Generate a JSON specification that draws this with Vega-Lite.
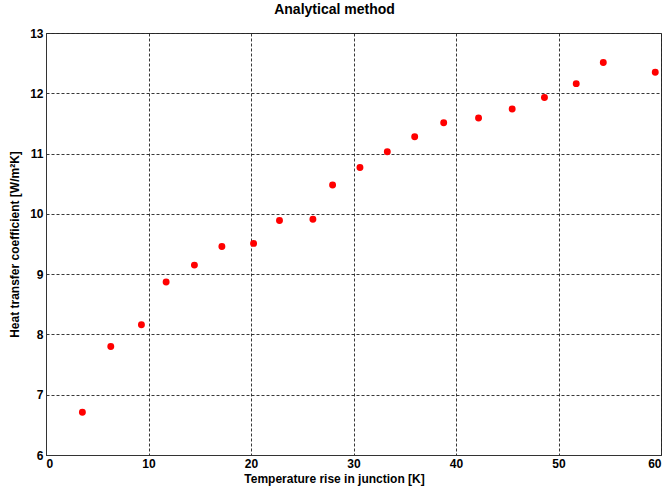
{
  "$schema": "https://vega.github.io/schema/vega-lite/v6.json",
  "autosize": {"type": "none"},
  "padding": {"left": 46, "top": 33, "right": 8, "bottom": 39},
  "width": 615,
  "height": 422,
  "background": "white",
  "title": {
    "text": "Analytical method",
    "font": "Liberation Sans",
    "fontSize": 14,
    "fontWeight": "bold",
    "color": "black",
    "anchor": "middle",
    "offset": 10,
    "dx": -19
  },
  "config": {
    "view": {"stroke": "#333", "strokeWidth": 1},
    "axis": {
      "labelFont": "Liberation Sans",
      "labelFontSize": 12,
      "labelFontWeight": "bold",
      "labelColor": "black",
      "titleFont": "Liberation Sans",
      "titleFontSize": 12,
      "titleFontWeight": "bold",
      "titleColor": "black",
      "grid": true,
      "gridColor": "#222",
      "gridDash": [3, 2],
      "gridWidth": 1,
      "gridOpacity": 0.9,
      "domainColor": "#333",
      "ticks": false,
      "labelPadding": 3
    }
  },
  "data": {
    "values": [
      {"dt": 3.55, "h": 6.71},
      {"dt": 6.32, "h": 7.80},
      {"dt": 9.31, "h": 8.16},
      {"dt": 11.72, "h": 8.87},
      {"dt": 14.48, "h": 9.15},
      {"dt": 17.16, "h": 9.46},
      {"dt": 20.25, "h": 9.51},
      {"dt": 22.78, "h": 9.89},
      {"dt": 26.04, "h": 9.91},
      {"dt": 27.96, "h": 10.48},
      {"dt": 30.63, "h": 10.77},
      {"dt": 33.3, "h": 11.03},
      {"dt": 35.97, "h": 11.28},
      {"dt": 38.8, "h": 11.51},
      {"dt": 42.2, "h": 11.59},
      {"dt": 45.48, "h": 11.74},
      {"dt": 48.63, "h": 11.93},
      {"dt": 51.73, "h": 12.16},
      {"dt": 54.37, "h": 12.51},
      {"dt": 59.44, "h": 12.35}
    ]
  },
  "mark": {"type": "circle", "color": "#ff0000", "opacity": 1, "size": 48},
  "encoding": {
    "x": {
      "field": "dt",
      "type": "quantitative",
      "scale": {"domain": [0, 60], "nice": false, "zero": false},
      "axis": {"title": "Temperature rise in junction [K]", "values": [0, 10, 20, 30, 40, 50, 60], "titlePadding": 4, "titleX": 288, "titleAnchor": "middle"}
    },
    "y": {
      "field": "h",
      "type": "quantitative",
      "scale": {"domain": [6, 13], "nice": false, "zero": false},
      "axis": {"title": "Heat transfer coefficient [W/m²K]", "values": [6, 7, 8, 9, 10, 11, 12, 13], "titlePadding": 8}
    }
  }
}
